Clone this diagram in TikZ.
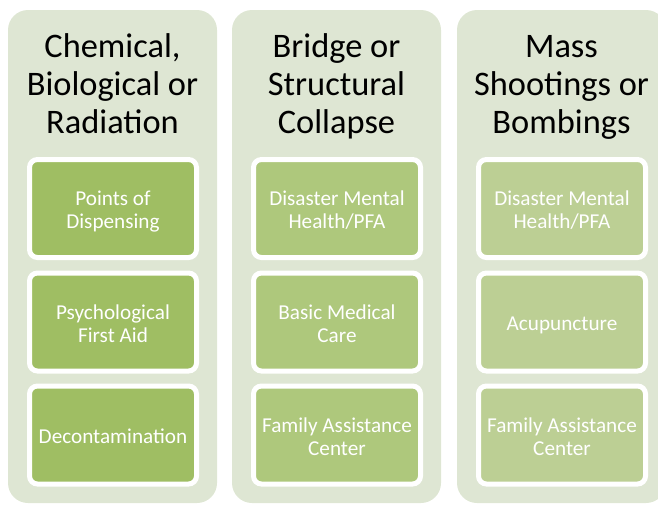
\documentclass[tikz,border=0pt]{standalone}
\usepackage{fontspec}
\setmainfont{Carlito}
\definecolor{colbg}{HTML}{DEE6D3}
\definecolor{gA}{HTML}{9FBE63}
\definecolor{gB}{HTML}{AEC87C}
\definecolor{gC}{HTML}{BCCF94}
\newcommand{\boxlabel}[1]{\raisebox{-4pt}[\height][\depth]{\begin{tabular}[t]{@{}c@{}}#1\end{tabular}}}
\newcommand{\headlabel}[1]{\begin{tabular}[t]{@{}c@{}}#1\end{tabular}}
\begin{document}
\begin{tikzpicture}[x=1pt,y=-1pt,
  column/.style={fill=colbg, rounded corners=20pt},
  head/.style={font=\fontsize{34.4}{38}\selectfont, inner sep=0pt, anchor=base, text=black},
  item/.style={draw=white, line width=5pt, rounded corners=8pt, minimum width=167pt,
    minimum height=98pt, inner sep=0pt, text=white, font=\fontsize{21.2}{23.3}\selectfont}]
\useasboundingbox (0,0) rectangle (658,504);
\clip (0,0) rectangle (658,504);
\fill[column] (8,10) rectangle (217,503);
\fill[column] (232,10) rectangle (441,503);
\fill[column] (457,10) rectangle (666,503);
% headers
\node[head] (h1) at (112.5,57) {\headlabel{Chemical,\\Biological or\\Radiation}};
\node[head] (h2) at (336.5,57) {\headlabel{Bridge or\\Structural\\Collapse}};
\node[head] (h3) at (561.5,57) {\headlabel{Mass\\Shootings or\\Bombings}};
% column 1
\node[item, fill=gA] (a1) at (113,208.5) {\boxlabel{Points of\\Dispensing}};
\node[item, fill=gA] (a2) at (113,322) {\boxlabel{Psychological\\First Aid}};
\node[item, fill=gA] (a3) at (113,435) {\boxlabel{Decontamination}};
% column 2
\node[item, fill=gB] (b1) at (337,208.5) {\boxlabel{Disaster Mental\\Health/PFA}};
\node[item, fill=gB] (b2) at (337,322) {\boxlabel{Basic Medical\\Care}};
\node[item, fill=gB] (b3) at (337,435) {\boxlabel{Family Assistance\\Center}};
% column 3
\node[item, fill=gC] (c1) at (562,208.5) {\boxlabel{Disaster Mental\\Health/PFA}};
\node[item, fill=gC] (c2) at (562,322) {\boxlabel{Acupuncture}};
\node[item, fill=gC] (c3) at (562,435) {\boxlabel{Family Assistance\\Center}};
\end{tikzpicture}
\end{document}
